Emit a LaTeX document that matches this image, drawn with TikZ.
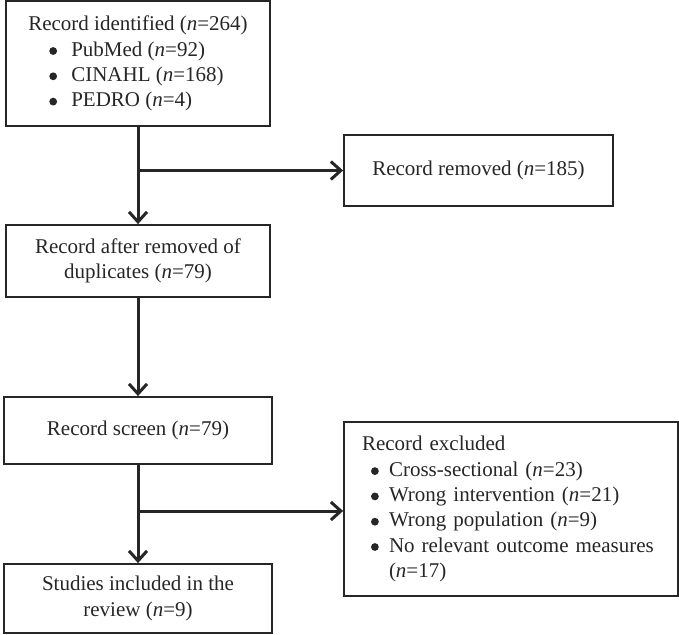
\documentclass[tikz,border=0pt]{standalone}
\usepackage{fontspec}
\setmainfont{Liberation Serif}
\usetikzlibrary{arrows.meta}
\definecolor{ink}{HTML}{262626}
\newcommand{\nn}{\textit{n}}
\newcommand{\dotmark}{\tikz[baseline=-5pt]\fill[ink] (0pt,0pt) circle (3.9pt);}
\newcommand{\bulA}{\hspace*{21pt}\makebox[22pt][l]{\dotmark}}
\newcommand{\bulB}{\hspace*{9pt}\makebox[18pt][l]{\dotmark}}
\tikzset{
  box/.style={draw=ink, line width=1.8pt, text=ink, inner ysep=0pt,
    font=\fontsize{21}{25.3}\selectfont},
  lbox/.style={box, align=left},
  cbox/.style={box, align=center},
  conn/.style={draw=ink, line width=3pt,
    -{Straight Barb[length=10pt,width=18pt]}}
}
\begin{document}
\begin{tikzpicture}[x=1pt,y=-1pt]
  \useasboundingbox (0,0) rectangle (679,634);
  % boxes
  \node[lbox, minimum width=264pt, minimum height=125pt] (b1) at (138,63.5)
    {Record identified (\nn=264)\\
     \bulA PubMed (\nn=92)\\
     \bulA CINAHL (\nn=168)\\
     \bulA PEDRO (\nn=4)};
  \node[cbox, minimum width=269pt, minimum height=71pt] (b2) at (478.5,170.5)
    {Record removed (\nn=185)};
  \node[cbox, minimum width=264pt, minimum height=72pt] (b3) at (138,261)
    {Record after removed of\\duplicates (\nn=79)};
  \node[cbox, minimum width=268pt, minimum height=67pt] (b4) at (138,430.5)
    {Record screen (\nn=79)};
  \node[cbox, minimum width=268pt, minimum height=69pt] (b5) at (138,598.5)
    {Studies included in the\\review (\nn=9)};
  \node[lbox, minimum width=334pt, minimum height=174pt,
        inner xsep=18pt, text width=298pt] (b6) at (511,509)
    {Record excluded\\
     \bulB Cross-sectional (\nn=23)\\
     \bulB Wrong intervention (\nn=21)\\
     \bulB Wrong population (\nn=9)\\
     \bulB No relevant outcome measures\\
     \hspace*{27pt}(\nn=17)};
  % junctions
  \coordinate (j1) at (138,170.5);
  \coordinate (j2) at (138,511);
  % connectors
  \draw[conn] (b1.south) -- (b3.north);
  \draw[conn] (j1) -- (j1 -| b2.west);
  \draw[conn] (b3.south) -- (b4.north);
  \draw[conn] (b4.south) -- (b5.north);
  \draw[conn] (j2) -- (j2 -| b6.west);
\end{tikzpicture}
\end{document}
